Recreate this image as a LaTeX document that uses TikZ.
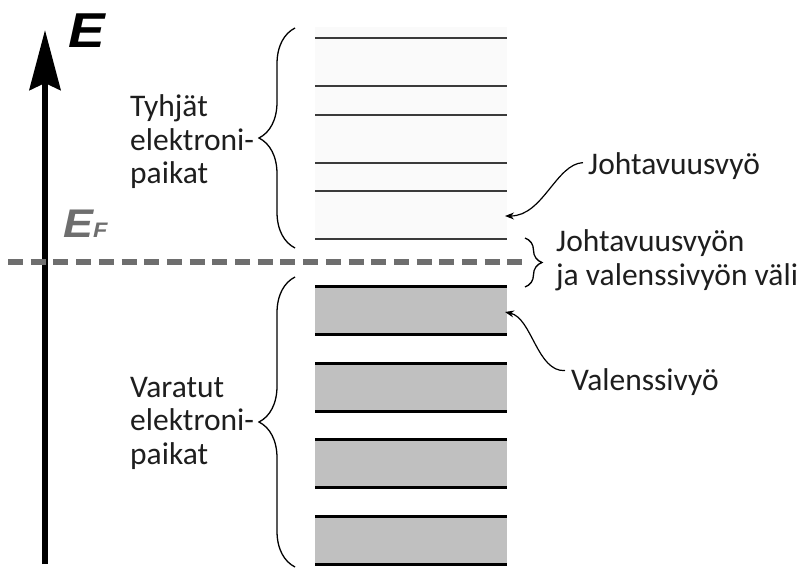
\documentclass[tikz,border=0pt]{standalone}
\usepackage{fontspec}
\setmainfont{Carlito}
\newfontfamily\heavyfont[FakeStretch=1.12]{Liberation Sans}
\usetikzlibrary{arrows.meta,decorations.pathreplacing}
\definecolor{fermigray}{HTML}{6E6E6E}
\definecolor{bandgray}{HTML}{C0C0C0}
\definecolor{levelgray}{HTML}{3A3A3A}
\definecolor{textdark}{HTML}{1E1E1E}
\begin{document}
\begin{tikzpicture}[x=1pt,y=-1pt,
  lbl/.style={inner sep=0, align=left, text=textdark,
    font=\fontsize{31.5}{33.5}\selectfont},
  bracestyle/.style={decorate, decoration={brace, amplitude=#1},
    line width=1.3pt, draw=black},
  uplevel/.style={line width=1.8pt, draw=levelgray},
  lowlevel/.style={line width=3pt, draw=black},
  pointer/.style={line width=1.2pt, draw=black,
    -{Stealth[length=9pt, width=7pt]}},
  fermiline/.style={line width=6pt, draw=fermigray,
    dash pattern=on 15pt off 7.7pt}]
\useasboundingbox (0,0) rectangle (797,569);

% energy axis
\coordinate (axisbot) at (45,564);
\coordinate (axistop) at (45,30);
\draw[line width=6pt, -{Stealth[length=60pt, width=31pt, inset=7pt]}]
  (axisbot) -- (axistop);
\node[anchor=base west, inner sep=0,
  font=\heavyfont\bfseries\itshape\fontsize{49}{49}\selectfont]
  (elabel) at (68,48) {E};

% empty levels (conduction band)
\fill[black!2] (315,27) rectangle (507,239);
\foreach \yy in {38,86,115,163,191,239}
  \draw[uplevel] (315,\yy) -- (507,\yy);

% filled bands (valence band)
\foreach \ya/\yb in {286/334,363/411,439/487,516/564}{
  \fill[bandgray] (315,\ya) rectangle (507,\yb);
  \draw[lowlevel] (315,\ya) -- (507,\ya);
  \draw[lowlevel] (315,\yb) -- (507,\yb);
}

% Fermi level
\coordinate (fermiL) at (8,262);
\coordinate (fermiR) at (525,262);
\draw[fermiline] (fermiL) -- (fermiR);
\node[anchor=base west, inner sep=0, text=fermigray,
  font=\heavyfont\bfseries\itshape\fontsize{40}{40}\selectfont]
  (eflabel) at (63,238) {E\fontsize{21}{21}\selectfont F};

% braces
\draw[bracestyle=36] (295,248) -- (295,28);
\draw[bracestyle=36] (295,567) -- (295,277);
\draw[bracestyle=17] (525,238) -- (525,287);

% labels (anchored at the baseline of their last line)
\node[lbl, anchor=base west] (empty) at (130,184)
  {Tyhjät\\elektroni-\\paikat};
\node[lbl, anchor=base west] (occupied) at (130,464)
  {Varatut\\elektroni-\\paikat};
\node[lbl, anchor=base west] (gap) at (556,285)
  {Johtavuusvyön\\ja valenssivyön väli};
\node[lbl, anchor=base west] (cband) at (588,175) {Johtavuusvyö};
\node[lbl, anchor=base west] (vband) at (571,390) {Valenssivyö};

% pointers to the bands
\coordinate (ctip) at (505,216);
\coordinate (vtip) at (505,312);
\draw[pointer] ([shift={(-5,-4)}]cband.west)
  .. controls (556,164) and (543,216) .. (ctip);
\draw[pointer] ([shift={(-6,-11)}]vband.west)
  .. controls (537,372) and (532,318) .. (vtip);
\end{tikzpicture}
\end{document}
